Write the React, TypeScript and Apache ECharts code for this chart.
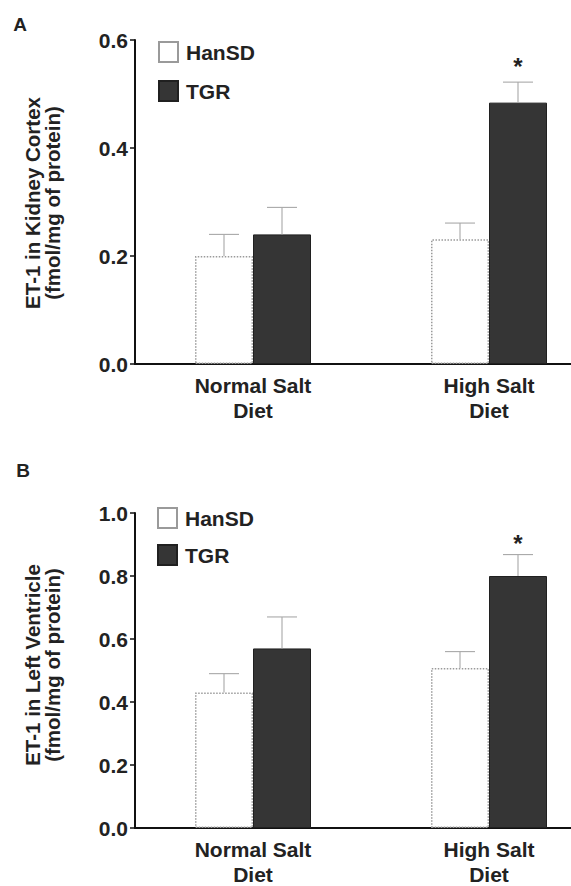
import React, { useEffect, useRef } from "react";
import * as echarts from "echarts";

const categories = ["Normal Salt\nDiet", "High Salt\nDiet"];
const seriesNames = ["HanSD", "TGR"];

// Panel A: ET-1 in kidney cortex
const kidneyHanSD = [0.2, 0.231];
const kidneyHanSDUpper = [0.24, 0.261];
const kidneyTGR = [0.24, 0.484];
const kidneyTGRUpper = [0.29, 0.522];
const kidneyTGRSig = [false, true];

// Panel B: ET-1 in left ventricle
const ventHanSD = [0.43, 0.508];
const ventHanSDUpper = [0.49, 0.56];
const ventTGR = [0.57, 0.8];
const ventTGRUpper = [0.67, 0.868];
const ventTGRSig = [false, true];

const kidneyAxis = { min: 0, max: 0.6, interval: 0.2 };
const ventAxis = { min: 0, max: 1.0, interval: 0.2 };

const FONT = '"Liberation Sans", Arial, Helvetica, sans-serif';
const TEXT = "#222";
const BAR_W = 58;

export default function App() {
  const ref = useRef<HTMLDivElement>(null);
  useEffect(() => {
    if (!ref.current) return;
    const chart = echarts.init(ref.current, null, { renderer: "svg" });

    const errData = (means: number[], uppers: number[], sig?: boolean[]) =>
      means.map((m, i) => [i, m, uppers[i], sig && sig[i] ? 1 : 0]);

    const errSeries = (gi: number, data: any[], offset: number, starGap: number) => ({
      type: "custom",
      xAxisIndex: gi,
      yAxisIndex: gi,
      z: 5,
      silent: true,
      data,
      renderItem: (params: any, api: any) => {
        const c = api.value(0);
        const top = api.coord([c, api.value(1)]);
        const cap = api.coord([c, api.value(2)]);
        const x = top[0] + offset;
        const st = { stroke: "#a8a8a8", lineWidth: 1.1 };
        const children: any[] = [
          { type: "line", shape: { x1: x, y1: top[1], x2: x, y2: cap[1] }, style: st },
          { type: "line", shape: { x1: x - 15, y1: cap[1], x2: x + 15, y2: cap[1] }, style: st },
        ];
        if (api.value(3)) {
          children.push({
            type: "text",
            style: {
              text: "*",
              x,
              y: cap[1] - starGap,
              textAlign: "center",
              textVerticalAlign: "middle",
              font: `bold 24px ${FONT}`,
              fill: TEXT,
            },
          });
        }
        return { type: "group", children };
      },
    });

    const xAxisFor = (gi: number) => ({
      type: "category",
      gridIndex: gi,
      data: categories,
      axisLine: { lineStyle: { color: "#111", width: 2 } },
      axisTick: { show: false },
      axisLabel: {
        color: TEXT,
        fontFamily: FONT,
        fontWeight: "bold",
        fontSize: 21,
        lineHeight: 25,
        margin: 9,
      },
    });

    const yAxisFor = (gi: number, ax: { min: number; max: number; interval: number }) => ({
      type: "value",
      gridIndex: gi,
      min: ax.min,
      max: ax.max,
      interval: ax.interval,
      axisLine: { show: true, lineStyle: { color: "#111", width: 2 } },
      axisTick: { show: true, length: 5, lineStyle: { color: "#111", width: 1.5 } },
      splitLine: { show: false },
      axisLabel: {
        color: TEXT,
        fontFamily: FONT,
        fontWeight: "bold",
        fontSize: 21,
        margin: 7,
        formatter: (v: number) => v.toFixed(1),
      },
    });

    const hanStyle = {
      color: "#ffffff",
      borderColor: "#9a9a9a",
      borderWidth: 1.5,
      borderType: "dotted",
    };
    const tgrStyle = { color: "#353535", borderColor: "#202020", borderWidth: 1 };

    const barsFor = (gi: number, han: number[], tgr: number[]) => [
      {
        name: seriesNames[0],
        type: "bar",
        xAxisIndex: gi,
        yAxisIndex: gi,
        data: han,
        barWidth: BAR_W,
        barGap: "0%",
        itemStyle: hanStyle,
      },
      {
        name: seriesNames[1],
        type: "bar",
        xAxisIndex: gi,
        yAxisIndex: gi,
        data: tgr,
        barWidth: BAR_W,
        barGap: "0%",
        itemStyle: tgrStyle,
      },
    ];

    const legendFor = (left: number, top: number, gap: number) => ({
      left,
      top,
      padding: 0,
      orient: "vertical",
      icon: "rect",
      itemWidth: 19,
      itemHeight: 20,
      itemGap: gap,
      selectedMode: false,
      data: seriesNames,
      textStyle: { color: TEXT, fontFamily: FONT, fontWeight: "bold", fontSize: 21, padding: [0, 0, 0, 3] },
    });

    const titleText = (x: number, y: number, text: string) => ({
      type: "text",
      x,
      y,
      rotation: Math.PI / 2,
      style: {
        text,
        textAlign: "center",
        textVerticalAlign: "middle",
        font: `bold 20.5px ${FONT}`,
        lineHeight: 20,
        fill: TEXT,
      },
    });

    const letter = (x: number, y: number, text: string) => ({
      type: "text",
      x,
      y,
      style: {
        text,
        textAlign: "center",
        textVerticalAlign: "middle",
        font: `bold 19px ${FONT}`,
        fill: TEXT,
      },
    });

    chart.setOption({
      animation: false,
      backgroundColor: "#ffffff",
      grid: [
        { left: 135, top: 40, width: 472, height: 324, outerBoundsMode: "none" },
        { left: 135, top: 513, width: 472, height: 315, outerBoundsMode: "none" },
      ],
      xAxis: [xAxisFor(0), xAxisFor(1)],
      yAxis: [yAxisFor(0, kidneyAxis), yAxisFor(1, ventAxis)],
      legend: [legendFor(158, 41, 17), legendFor(157, 507, 15)],
      series: [
        ...barsFor(0, kidneyHanSD, kidneyTGR),
        errSeries(0, errData(kidneyHanSD, kidneyHanSDUpper), -BAR_W / 2, 18),
        errSeries(0, errData(kidneyTGR, kidneyTGRUpper, kidneyTGRSig), BAR_W / 2, 16),
        ...barsFor(1, ventHanSD, ventTGR),
        errSeries(1, errData(ventHanSD, ventHanSDUpper), -BAR_W / 2, 14),
        errSeries(1, errData(ventTGR, ventTGRUpper, ventTGRSig), BAR_W / 2, 11),
      ],
      graphic: [
        letter(20, 24, "A"),
        letter(23, 470, "B"),
        titleText(42, 203, "ET-1 in Kidney Cortex\n(fmol/mg of protein)"),
        titleText(42, 665, "ET-1 in Left Ventricle\n(fmol/mg of protein)"),
      ],
    });

    return () => chart.dispose();
  }, []);

  return (
    <div
      ref={ref}
      style={{ position: "absolute", left: 0, top: 0, width: 571, height: 886, background: "#fff" }}
    />
  );
}
